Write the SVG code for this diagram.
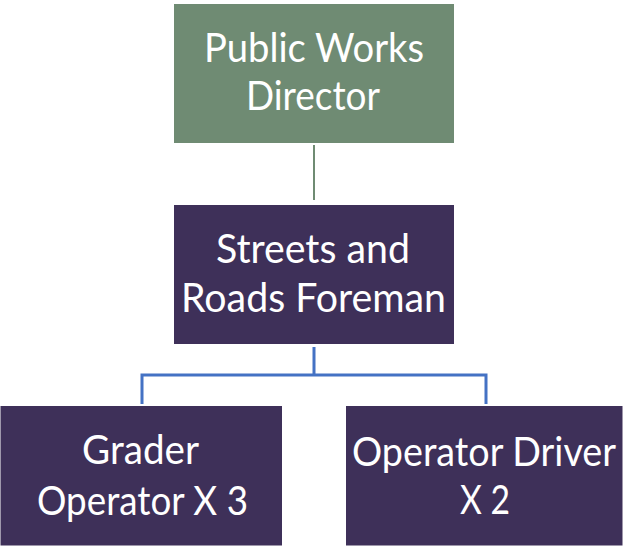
<svg xmlns="http://www.w3.org/2000/svg" width="623" height="546" viewBox="0 0 623 546">
<style>
.g{fill:#6f8b73;stroke:#ffffff;stroke-width:1}
.p{fill:#3e3059;stroke:#ffffff;stroke-width:1}
.t{font-family:Lato,"Open Sans","Liberation Sans",sans-serif;font-size:40px;fill:#ffffff;text-anchor:middle}
.cg{stroke:#6f8b73;stroke-width:2;fill:none}
.cb{stroke:#4472c4;stroke-width:3;fill:none}
</style>
<rect width="623" height="546" fill="#ffffff"/>
<g id="connectors">
<line class="cg" x1="314" y1="145" x2="314" y2="200"/>
<path class="cb" d="M314 347 V375 M142 375 H486 M142 373.5 V404 M486 373.5 V404"/>
</g>
<g id="director">
<rect class="g" x="173.5" y="3.5" width="281" height="140"/>
<text class="t" x="314" y="62" textLength="220" lengthAdjust="spacingAndGlyphs">Public Works</text>
<text class="t" x="313" y="110" textLength="134" lengthAdjust="spacingAndGlyphs">Director</text>
</g>
<g id="foreman">
<rect class="p" x="173.5" y="204.5" width="281" height="140"/>
<text class="t" x="313" y="263" textLength="194" lengthAdjust="spacingAndGlyphs">Streets and</text>
<text class="t" x="313.5" y="312" textLength="265" lengthAdjust="spacingAndGlyphs">Roads Foreman</text>
</g>
<g id="grader">
<rect class="p" x="0" y="405.5" width="282.5" height="140.5"/>
<text class="t" x="140.5" y="464" textLength="117" lengthAdjust="spacingAndGlyphs">Grader</text>
<text class="t" x="142.5" y="515" textLength="211" lengthAdjust="spacingAndGlyphs">Operator X 3</text>
</g>
<g id="driver">
<rect class="p" x="345.5" y="405.5" width="277.5" height="140.5"/>
<text class="t" x="484" y="466" textLength="264" lengthAdjust="spacingAndGlyphs">Operator Driver</text>
<text class="t" x="485" y="514" textLength="50" lengthAdjust="spacingAndGlyphs">X 2</text>
</g>
</svg>
